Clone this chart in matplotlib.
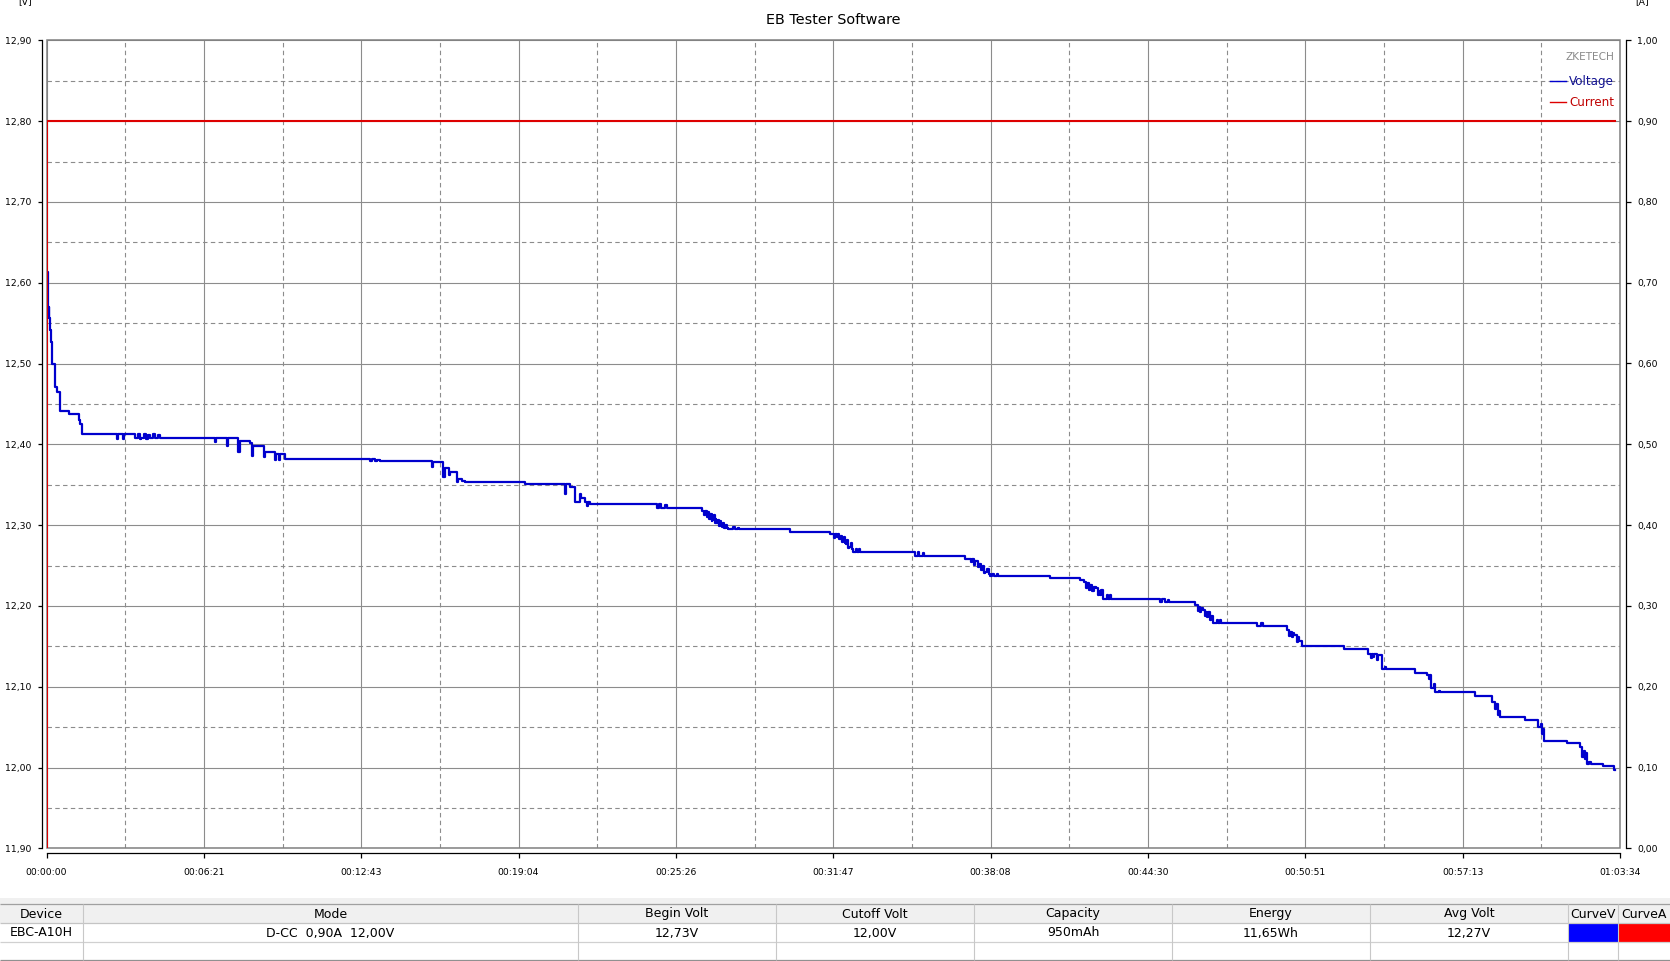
import matplotlib
matplotlib.use("Agg")
import matplotlib.pyplot as plt
from matplotlib.patches import Rectangle
import numpy as np

plt.rcParams['font.family'] = ['DejaVu Sans']

# ---------------- data ----------------
title = "EB Tester Software"
x_max_s = 3814  # 01:03:34
x_tick_labels = ["00:00:00", "00:06:21", "00:12:43", "00:19:04", "00:25:26",
                 "00:31:47", "00:38:08", "00:44:30", "00:50:51", "00:57:13", "01:03:34"]
volt_ticks = [11.9, 12.0, 12.1, 12.2, 12.3, 12.4, 12.5, 12.6, 12.7, 12.8, 12.9]
amp_ticks = [0.0, 0.1, 0.2, 0.3, 0.4, 0.5, 0.6, 0.7, 0.8, 0.9, 1.0]

volt_time = [
    2, 4, 5, 7, 9, 11, 13, 21, 25, 33, 55, 78, 82, 85,
    170, 173, 186, 189, 214, 222, 226, 229, 236, 240, 246, 250, 258, 264, 270, 276,
    408, 411, 437, 440, 465, 468, 494, 497, 500, 526, 529, 554, 557, 563, 566, 578,
    784, 790, 796, 802, 808, 934, 937, 962, 965, 975, 978, 994, 998, 1006, 1014,
    1160, 1257, 1260, 1269, 1281, 1293, 1296, 1305, 1310, 1313, 1317,
    1479, 1485, 1490, 1500, 1504,
    1588, 1594, 1597, 1600, 1603, 1606, 1609, 1612, 1614, 1616, 1619, 1621, 1623, 1624, 1627,
    1630, 1633, 1635, 1637, 1640, 1642, 1644, 1647, 1650, 1652, 1660, 1665, 1668, 1675, 1678,
    1802, 1899, 1908, 1911, 1915, 1918, 1922, 1925, 1928, 1931, 1934, 1936, 1938, 1941, 1943,
    1946, 1949, 1953, 1956, 1962, 1965, 1970, 1973,
    2106, 2112, 2116, 2124, 2127, 2227, 2240, 2243, 2248, 2251, 2258, 2261, 2264, 2267, 2270,
    2273, 2276, 2279, 2284, 2287, 2293, 2296, 2303, 2306,
    2432, 2505, 2515, 2520, 2523, 2527, 2530, 2535, 2538, 2545, 2549, 2552, 2554, 2557, 2562,
    2570, 2573, 2578, 2581,
    2699, 2704, 2710, 2718, 2721, 2784, 2790, 2793, 2795, 2798, 2803, 2808, 2810, 2812, 2815,
    2819, 2822, 2828, 2836, 2839, 2845, 2848,
    2933, 2945, 2948, 3006, 3012, 3015, 3018, 3021, 3025, 3030, 3033, 3037, 3042,
    3145, 3204, 3210, 3213, 3215, 3218, 3224, 3227, 3236, 3245, 3248,
    3317, 3345, 3350, 3353, 3357, 3363, 3366, 3375, 3378,
    3463, 3503, 3511, 3514, 3518, 3521, 3523,
    3584, 3616, 3622, 3624, 3628, 3630,
    3685, 3717, 3722, 3726, 3728, 3731, 3733, 3740, 3743,
    3774, 3800, 3801,
]
volt_value = [
    12.613, 12.558, 12.570, 12.556, 12.542, 12.527, 12.500, 12.471, 12.465, 12.441, 12.437, 12.430, 12.425, 12.413,
    12.406, 12.413, 12.406, 12.413, 12.408, 12.413, 12.406, 12.408, 12.413, 12.407, 12.412, 12.408, 12.413, 12.408, 12.412, 12.408,
    12.403, 12.408, 12.398, 12.408, 12.390, 12.404, 12.402, 12.386, 12.398, 12.384, 12.390, 12.380, 12.388, 12.381, 12.388, 12.382,
    12.379, 12.382, 12.379, 12.381, 12.379, 12.372, 12.378, 12.359, 12.371, 12.362, 12.366, 12.353, 12.357, 12.355, 12.353,
    12.351, 12.339, 12.351, 12.347, 12.328, 12.338, 12.333, 12.329, 12.324, 12.329, 12.326,
    12.321, 12.326, 12.321, 12.325, 12.321,
    12.318, 12.312, 12.317, 12.310, 12.316, 12.308, 12.314, 12.305, 12.311, 12.306, 12.312, 12.303, 12.308, 12.302, 12.306,
    12.299, 12.305, 12.300, 12.298, 12.302, 12.297, 12.296, 12.300, 12.296, 12.295, 12.295, 12.298, 12.295, 12.297, 12.295,
    12.292, 12.2895, 12.284, 12.289, 12.285, 12.289, 12.283, 12.287, 12.279, 12.281, 12.285, 12.278, 12.276, 12.281, 12.272,
    12.273, 12.278, 12.270, 12.267, 12.271, 12.267, 12.270, 12.267,
    12.262, 12.267, 12.262, 12.266, 12.262, 12.2585, 12.254, 12.258, 12.251, 12.255, 12.248, 12.252, 12.244, 12.245, 12.249,
    12.241, 12.242, 12.246, 12.240, 12.237, 12.240, 12.237, 12.240, 12.237,
    12.234, 12.232, 12.229, 12.222, 12.228, 12.220, 12.226, 12.219, 12.224, 12.222, 12.214, 12.219, 12.213, 12.220, 12.208,
    12.213, 12.208, 12.214, 12.208,
    12.205, 12.208, 12.205, 12.207, 12.205, 12.201, 12.194, 12.199, 12.1925, 12.198, 12.195, 12.187, 12.192, 12.186, 12.192,
    12.183, 12.188, 12.179, 12.182, 12.179, 12.182, 12.179,
    12.175, 12.179, 12.175, 12.170, 12.163, 12.168, 12.1615, 12.167, 12.164, 12.1553, 12.161, 12.156, 12.150,
    12.147, 12.141, 12.135, 12.140, 12.137, 12.141, 12.133, 12.139, 12.122, 12.124, 12.122,
    12.117, 12.114, 12.110, 12.114, 12.098, 12.103, 12.093, 12.095, 12.093,
    12.088, 12.081, 12.073, 12.078, 12.065, 12.070, 12.0625,
    12.059, 12.050, 12.054, 12.042, 12.048, 12.033,
    12.030, 12.025, 12.013, 12.021, 12.011, 12.018, 12.004, 12.007, 12.004,
    12.0015, 11.9965, 11.9965,
]

current_time = [0, 0, 3802]
current_value = [0.0, 0.90, 0.90]

legend_brand = "ZKETECH"
legend_labels = ["Voltage", "Current"]
table_header = ["Device", "Mode", "Begin Volt", "Cutoff Volt", "Capacity",
                "Energy", "Avg Volt", "CurveV", "CurveA"]
table_row = ["EBC-A10H", "D-CC  0,90A  12,00V", "12,73V", "12,00V", "950mAh",
             "11,65Wh", "12,27V", "", ""]
curve_colors = ["#0000ff", "#ff0000"]

# ---------------- figure ----------------
W, H = 1670, 961
fig = plt.figure(figsize=(W / 100, H / 100), dpi=100, facecolor="white")

# background (pixel coordinates) for the table
bg = fig.add_axes([0, 0, 1, 1], zorder=0)
bg.set_xlim(0, W)
bg.set_ylim(H, 0)
bg.axis("off")

col_edges = [0, 83, 578, 776, 974, 1172, 1370, 1568, 1618, 1670]
y_band, y_head, y_r1, y_r2, y_end = 898, 904, 923, 942, 960
bg.add_patch(Rectangle((0, y_band), W, y_r1 - y_band, fc="#f0f0f0", ec="none"))
bg.add_patch(Rectangle((0, y_r1), W, y_end - y_r1, fc="white", ec="none"))
# colour swatches
bg.add_patch(Rectangle((col_edges[7] + 1, y_r1 + 1), col_edges[8] - col_edges[7] - 1,
                       y_r2 - y_r1 - 1, fc=curve_colors[0], ec="none"))
bg.add_patch(Rectangle((col_edges[8] + 1, y_r1 + 1), col_edges[9] - col_edges[8] - 1,
                       y_r2 - y_r1 - 1, fc=curve_colors[1], ec="none"))
for yy, c in [(y_head, "#a0a0a0"), (y_r1, "#c4c4c4"), (y_r2, "#d0d0d0"), (y_end, "#909090")]:
    bg.plot([0, W], [yy, yy], color=c, lw=0.9, solid_capstyle="butt")
for xe in col_edges[1:-1]:
    bg.plot([xe, xe], [y_head, y_end], color="#c8c8c8", lw=0.8, solid_capstyle="butt")
for i, (h, r) in enumerate(zip(table_header, table_row)):
    cx = (col_edges[i] + col_edges[i + 1]) / 2
    bg.text(cx, (y_head + y_r1) / 2 + 0.5, h, ha="center", va="center", fontsize=9, color="black")
    if r:
        bg.text(cx, (y_r1 + y_r2) / 2 + 0.5, r, ha="center", va="center", fontsize=9, color="black")

# main axes
left_px, right_px, top_px, bot_px = 46.5, 1620, 40.3, 848.3
ax = fig.add_axes([left_px / W, 1 - bot_px / H, (right_px - left_px) / W, (bot_px - top_px) / H],
                  zorder=1)
ax.set_facecolor("white")
ax.set_xlim(0, x_max_s)
ax.set_ylim(volt_ticks[0], volt_ticks[-1])

xt = np.linspace(0, x_max_s, len(x_tick_labels))
ax.set_xticks(xt)
ax.set_xticklabels(x_tick_labels)
ax.set_xticks((xt[:-1] + xt[1:]) / 2, minor=True)
ax.set_yticks(volt_ticks)
ax.set_yticklabels([f"{v:.2f}".replace(".", ",") for v in volt_ticks])
ax.set_yticks([(a + b) / 2 for a, b in zip(volt_ticks[:-1], volt_ticks[1:])], minor=True)

ax.grid(which="major", color="#8c8c8c", lw=0.8, ls="-")
ax.grid(which="minor", color="#8c8c8c", lw=0.8, ls=(0, (4, 3)))
ax.set_axisbelow(True)

for s in ["top", "right"]:
    ax.spines[s].set_visible(False)
for s in ["left", "bottom"]:
    ax.spines[s].set_position(("outward", 3.6))
    ax.spines[s].set_color("black")
    ax.spines[s].set_linewidth(0.9)
ax.tick_params(axis="y", which="major", direction="out", length=3.2, width=0.9,
               pad=4.3, labelsize=6.7, colors="black")
ax.tick_params(axis="x", which="major", direction="out", length=3.6, width=0.9,
               pad=7, labelsize=6.7, colors="black")
ax.tick_params(which="minor", length=0)

ax.add_patch(Rectangle((0, 0), 1, 1, transform=ax.transAxes, fill=False,
                       ec="#808080", lw=1.1, zorder=1.5, clip_on=False))

ax.plot(volt_time, volt_value, drawstyle="steps-post", color="#0000cd", lw=1.6, zorder=3)

ax2 = ax.twinx()
ax2.set_ylim(amp_ticks[0], amp_ticks[-1])
ax2.set_yticks(amp_ticks)
ax2.set_yticklabels([f"{v:.2f}".replace(".", ",") for v in amp_ticks])
for s in ["top", "left", "bottom"]:
    ax2.spines[s].set_visible(False)
ax2.spines["right"].set_position(("outward", 4.3))
ax2.spines["right"].set_color("black")
ax2.spines["right"].set_linewidth(0.9)
ax2.tick_params(axis="y", which="major", direction="out", length=3.6, width=0.9,
                pad=4.3, labelsize=6.7, colors="black")
ax2.plot(current_time, current_value, color="#dd0000", lw=1.5, zorder=3)

# overlay (pixel coordinates) for title & legend
ov = fig.add_axes([0, 0, 1, 1], zorder=5)
ov.set_xlim(0, W)
ov.set_ylim(H, 0)
ov.axis("off")
ov.patch.set_visible(False)

ov.text(833, 20, title, ha="center", va="center", fontsize=10.4, color="black")
ov.text(25, 4.5, "[V]", ha="center", va="baseline", fontsize=6.7, color="black")
ov.text(1642, 4.5, "[A]", ha="center", va="baseline", fontsize=6.7, color="black")

ov.text(1614, 57, legend_brand, ha="right", va="center", fontsize=7.6, color="#8a8a8a")
ov.plot([1550, 1566], [81, 81], color="#0000cd", lw=1.0)
ov.text(1569, 81, legend_labels[0], ha="left", va="center", fontsize=8.6, color="#101090")
ov.plot([1550, 1566], [102, 102], color="#dd0000", lw=1.0)
ov.text(1569, 102, legend_labels[1], ha="left", va="center", fontsize=8.6, color="#c00000")

fig.savefig("out.png", dpi=100, facecolor="white")
